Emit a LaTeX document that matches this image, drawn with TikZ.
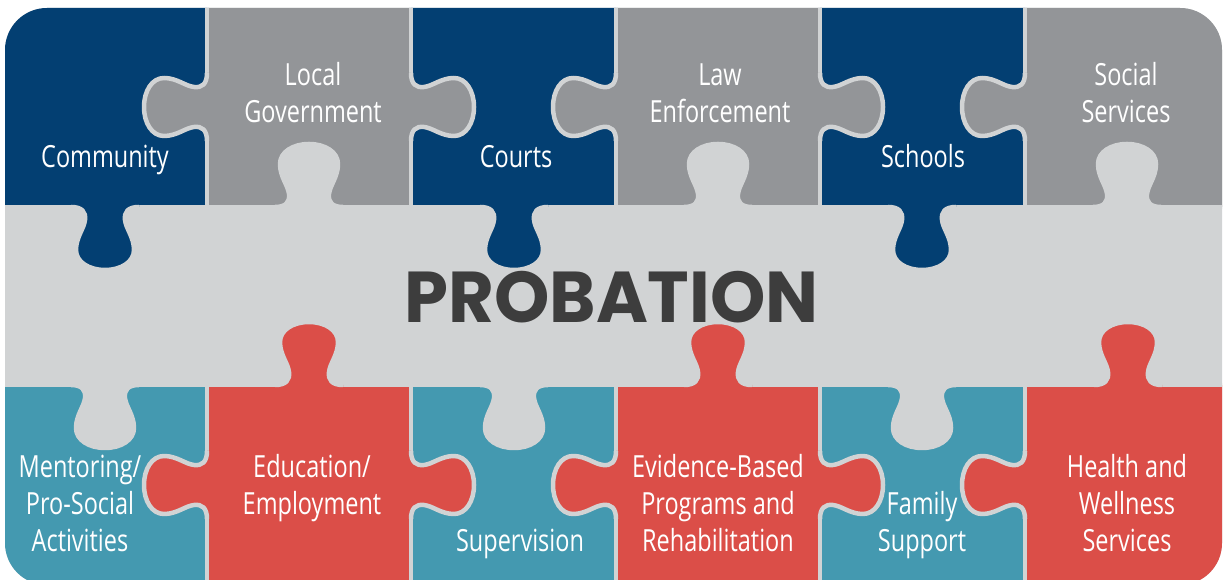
\documentclass[tikz,border=0pt]{standalone}
\usepackage{fontspec}
\setmainfont{Open Sans}[FakeStretch=0.77]
\newfontfamily\probfont{Poppins}[FakeStretch=0.978]
\definecolor{navy}{HTML}{033F72}
\definecolor{stone}{HTML}{939598}
\definecolor{band}{HTML}{D1D3D4}
\definecolor{teal}{HTML}{4499B0}
\definecolor{brick}{HTML}{DB4E48}
\definecolor{ink}{HTML}{3D3D3D}
\newcommand\lblfont{\fontsize{30.5}{37}\selectfont}
\newcommand\ptab[4]{%
  \begin{scope}[shift={(#1,#2)}, rotate=#3]
    \fill[#4] (-34,-3) -- (-34,0)
      .. controls (-23,0) and (-19,5) .. (-20,13)
      .. controls (-21,22) and (-29,30) .. (-29,43)
      .. controls (-29,55) and (-16,63) .. (0,63)
      .. controls (16,63) and (29,55) .. (29,43)
      .. controls (29,30) and (21,22) .. (20,13)
      .. controls (19,5) and (23,0) .. (34,0) -- (34,-3) -- cycle;
    \draw[seam] (-34,0)
      .. controls (-23,0) and (-19,5) .. (-20,13)
      .. controls (-21,22) and (-29,30) .. (-29,43)
      .. controls (-29,55) and (-16,63) .. (0,63)
      .. controls (16,63) and (29,55) .. (29,43)
      .. controls (29,30) and (21,22) .. (20,13)
      .. controls (19,5) and (23,0) .. (34,0);
  \end{scope}}
\tikzset{
  seam/.style={draw=band, line width=4.5pt, line join=round},
  piece/.style={seam, fill=#1},
  lbl/.style={text=white, font=\lblfont, align=center, anchor=base, inner sep=0pt},
}
\begin{document}
\begin{tikzpicture}[x=1pt,y=1pt]
\useasboundingbox (0,0) rectangle (1225,580);
\begin{scope}
\clip[rounded corners=42pt] (5,-5) rectangle (1222,572);
\fill[band] (0,-10) rectangle (1230,590);
% top row
\path[piece=navy]  (-10,373) rectangle (207,590);
\path[piece=stone] (207,373) rectangle (411,590);
\path[piece=navy]  (411,373) rectangle (616,590);
\path[piece=stone] (616,373) rectangle (820,590);
\path[piece=navy]  (820,373) rectangle (1025,590);
\path[piece=stone] (1025,373) rectangle (1240,590);
% bottom row
\path[piece=teal]  (-10,-20) rectangle (207,195);
\path[piece=brick] (207,-20) rectangle (411,195);
\path[piece=teal]  (411,-20) rectangle (616,195);
\path[piece=brick] (616,-20) rectangle (820,195);
\path[piece=teal]  (820,-20) rectangle (1025,195);
\path[piece=brick] (1025,-20) rectangle (1240,195);
% vertical tabs, top seam
\ptab{105}{373}{180}{navy}
\ptab{309}{373}{0}{band}
\ptab{514}{373}{180}{navy}
\ptab{718}{373}{0}{band}
\ptab{922}{373}{180}{navy}
\ptab{1127}{373}{0}{band}
% horizontal tabs, top row
\ptab{207}{473}{90}{stone}
\ptab{411}{473}{-90}{stone}
\ptab{616}{473}{90}{stone}
\ptab{820}{473}{-90}{stone}
\ptab{1025}{473}{90}{stone}
% vertical tabs, bottom seam
\ptab{105}{195}{180}{band}
\ptab{309}{195}{0}{brick}
\ptab{514}{195}{180}{band}
\ptab{718}{195}{0}{brick}
\ptab{922}{195}{180}{band}
\ptab{1128}{195}{0}{brick}
% horizontal tabs, bottom row
\ptab{207}{95}{90}{brick}
\ptab{411}{95}{-90}{brick}
\ptab{616}{95}{90}{brick}
\ptab{820}{95}{-90}{brick}
\ptab{1025}{95}{90}{brick}
\end{scope}
% labels (anchor = baseline of the last line)
\node[lbl] (community) at (105,412) {Community};
\node[lbl] (localgov) at (313,457) {Local\\Government};
\node[lbl] (courts) at (516,412) {Courts};
\node[lbl] (lawenf) at (720,457) {Law\\Enforcement};
\node[lbl] (schools) at (923,412) {Schools};
\node[lbl] (social) at (1126,457) {Social\\Services};
\node[lbl] (mentor) at (80,28) {Mentoring/\\Pro-Social\\Activities};
\node[lbl] (edu) at (312,65) {Education/\\Employment};
\node[lbl] (superv) at (520,28) {Supervision};
\node[lbl] (ebp) at (718,28) {Evidence-Based\\Programs and\\Rehabilitation};
\node[lbl] (family) at (922,28) {Family\\Support};
\node[lbl] (health) at (1127,28) {Health and\\Wellness\\Services};
\node[text=ink, anchor=base, inner sep=0pt, font=\probfont\bfseries\fontsize{72}{80}\selectfont] (prob) at (611.5,257) {PROBATION};
\end{tikzpicture}
\end{document}
